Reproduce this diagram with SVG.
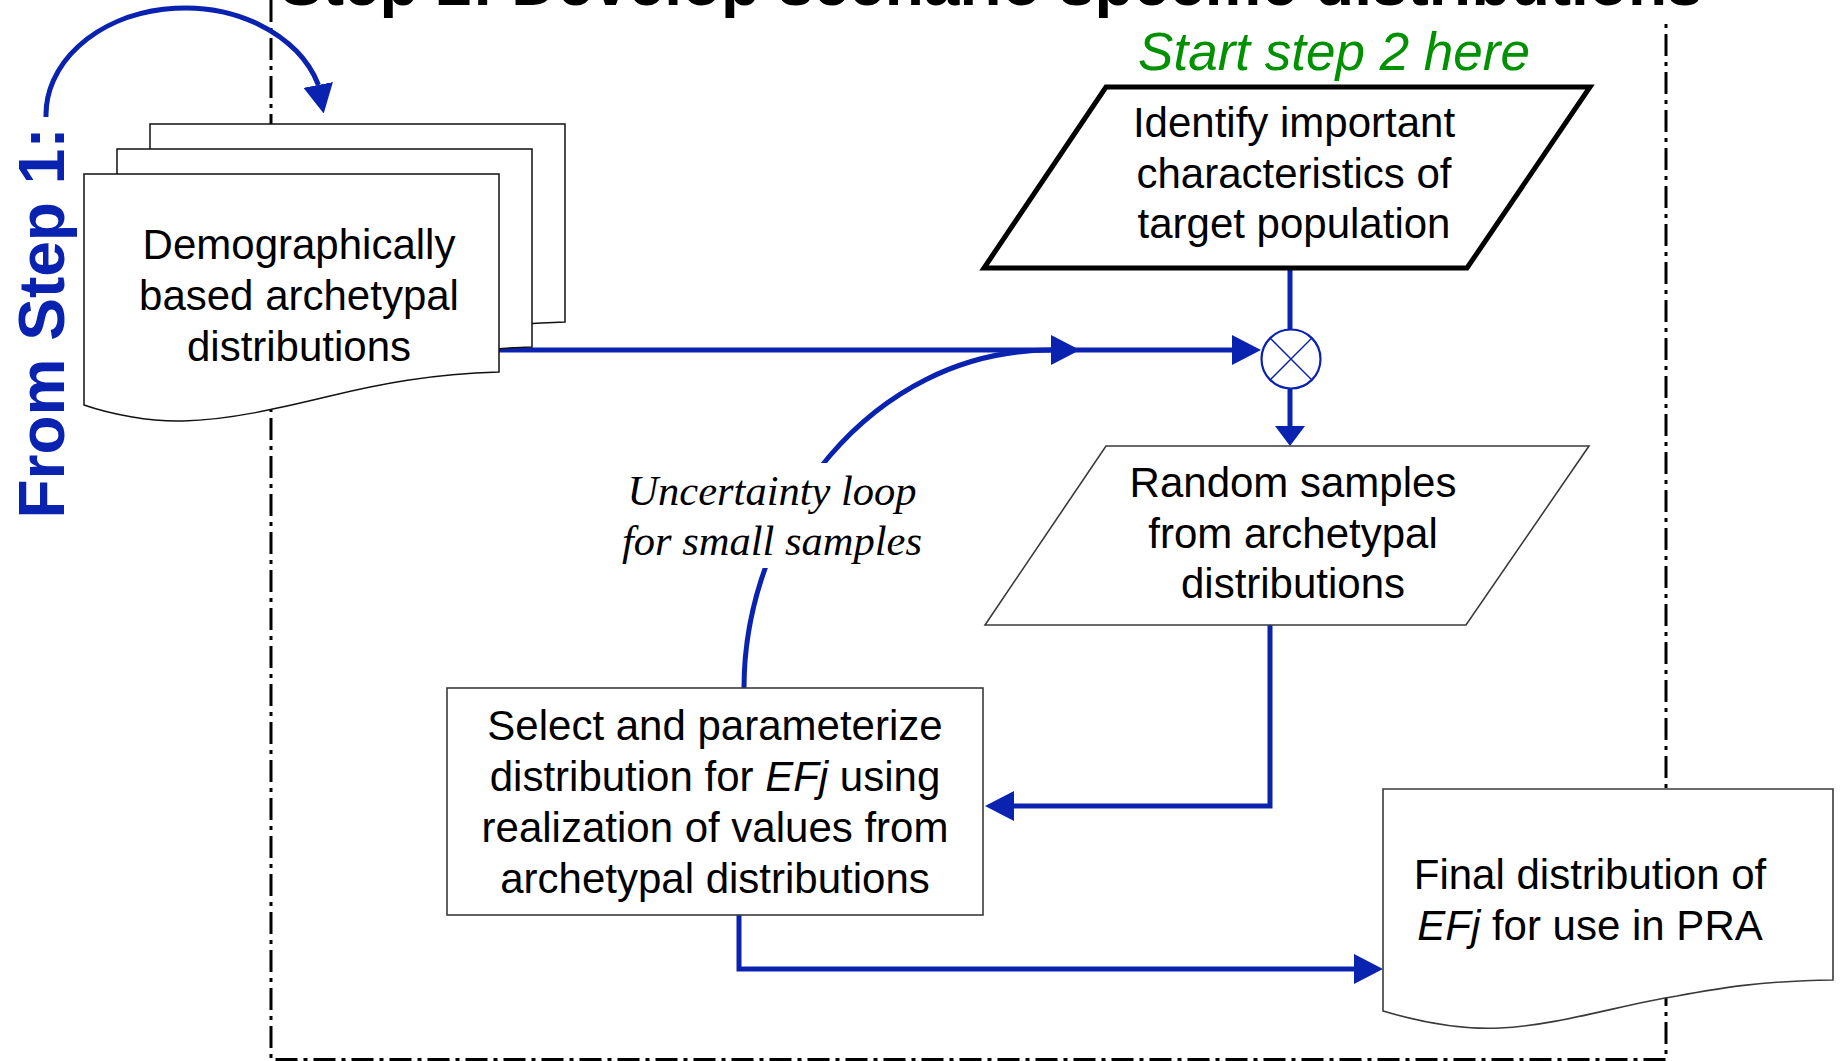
<svg xmlns="http://www.w3.org/2000/svg" width="1841" height="1061" viewBox="0 0 1841 1061">
  <style>
    .label { font-family: "Liberation Sans", Arial, sans-serif; font-size: 42px; fill: #000; text-anchor: middle; }
    .note { font-family: "Liberation Serif", "Times New Roman", serif; font-style: italic; font-size: 42.5px; fill: #000; text-anchor: middle; }
    .sheet { fill: #fff; stroke: #111; stroke-width: 1.5; }
    .box { fill: #fff; stroke: #3a3a3a; stroke-width: 1.6; }
    .flow { fill: none; stroke: #0a22b0; stroke-width: 5; stroke-linejoin: miter; stroke-linecap: butt; }
    .boundary { fill: none; stroke: #000; stroke-width: 3; stroke-dasharray: 22 6 4 6; }
  </style>
  <defs>
    <!-- arrowheads: base sits on the path end, tip points forward -->
    <marker id="arrow" viewBox="0 0 29 30" refX="0" refY="15" markerWidth="29" markerHeight="30" markerUnits="userSpaceOnUse" orient="auto">
      <path d="M0,0 L29,15 L0,30 Z" fill="#0a22b0"/>
    </marker>
    <marker id="arrow-short" viewBox="0 0 20 30" refX="0" refY="15" markerWidth="20" markerHeight="30" markerUnits="userSpaceOnUse" orient="auto">
      <path d="M0,0 L20,15 L0,30 Z" fill="#0a22b0"/>
    </marker>
    <!-- one page of a document stack, wavy bottom edge -->
    <path id="doc-sheet" d="M0,0 H415 V198 C346,200 296,210 246,222 C196,234 146,246 99,247 C66,248 26,240 0,231 Z"/>
  </defs>

  <rect width="1841" height="1061" fill="#fff"/>

  <!-- step boundary -->
  <path class="boundary" d="M271,0 V1059.5 H1666 V20"/>

  <!-- heading, running off the top edge -->
  <text x="280" y="5" font-family="Liberation Sans, Arial, sans-serif" font-weight="bold" font-size="64" fill="#000">Step 2: Develop scenario specific distributions</text>

  <text transform="translate(64,323) rotate(-90)" font-family="Liberation Sans, Arial, sans-serif" font-weight="bold" font-size="64" fill="#0a22b0" text-anchor="middle">From Step 1:</text>

  <text x="1334" y="70" font-family="Liberation Sans, Arial, sans-serif" font-style="italic" font-size="53" fill="#009100" text-anchor="middle">Start step 2 here</text>

  <!-- connectors -->
  <g id="connectors">
    <path class="flow" d="M46,117 A139,107 0 0 1 318,84 l0.19,0.98" marker-end="url(#arrow)"/>
    <path class="flow" d="M499,350 H1232" marker-end="url(#arrow)"/>
    <path class="flow" d="M1290,270 V331"/>
    <path class="flow" d="M1290,388 V426" marker-end="url(#arrow-short)"/>
    <path class="flow" d="M1270,625 V806 H1014" marker-end="url(#arrow)"/>
    <path class="flow" d="M739,915 V969 H1354" marker-end="url(#arrow)"/>
    <path class="flow" d="M744,688 C744,520 870,350 1051,350" marker-end="url(#arrow)"/>
  </g>

  <!-- nodes -->
  <g id="archetypal-distributions">
    <use href="#doc-sheet" class="sheet" transform="translate(150,124)"/>
    <use href="#doc-sheet" class="sheet" transform="translate(117,149)"/>
    <use href="#doc-sheet" class="sheet" transform="translate(84,174)"/>
    <text class="label" x="299" y="259">Demographically</text>
    <text class="label" x="299" y="310">based archetypal</text>
    <text class="label" x="299" y="361">distributions</text>
  </g>

  <g id="identify-characteristics">
    <polygon points="1106,87 1590,87 1467,268 984,268" fill="#fff" stroke="#000" stroke-width="5" stroke-linejoin="miter"/>
    <text class="label" x="1294" y="137">Identify important</text>
    <text class="label" x="1294" y="188">characteristics of</text>
    <text class="label" x="1294" y="238">target population</text>
  </g>

  <g id="junction">
    <circle cx="1291" cy="359" r="29.5" fill="#fff" stroke="#0a22b0" stroke-width="2.2"/>
    <path d="M1270.1,338.1 L1311.9,379.9 M1311.9,338.1 L1270.1,379.9" stroke="#0a22b0" stroke-width="1.4"/>
  </g>

  <g id="random-samples">
    <polygon points="1106,446 1589,446 1466,625 985,625" class="box"/>
    <text class="label" x="1293" y="497">Random samples</text>
    <text class="label" x="1293" y="548">from archetypal</text>
    <text class="label" x="1293" y="598">distributions</text>
  </g>

  <g id="uncertainty-loop-label">
    <rect x="612" y="463" width="316" height="105" fill="#fff"/>
    <text class="note" x="772" y="505">Uncertainty loop</text>
    <text class="note" x="772" y="555">for small samples</text>
  </g>

  <g id="select-parameterize">
    <rect x="447" y="688" width="536" height="227" class="box"/>
    <text class="label" x="715" y="740">Select and parameterize</text>
    <text class="label" x="715" y="791">distribution for <tspan font-style="italic">EFj</tspan> using</text>
    <text class="label" x="715" y="842">realization of values from</text>
    <text class="label" x="715" y="893">archetypal distributions</text>
  </g>

  <g id="final-distribution">
    <path class="box" d="M1383,789 H1833 V980 C1760,981 1720,988 1677,996 C1620,1005 1560,1025 1500,1028 C1460,1030 1420,1022 1383,1011 Z"/>
    <text class="label" x="1590" y="889">Final distribution of</text>
    <text class="label" x="1590" y="940"><tspan font-style="italic">EFj</tspan> for use in PRA</text>
  </g>
</svg>
